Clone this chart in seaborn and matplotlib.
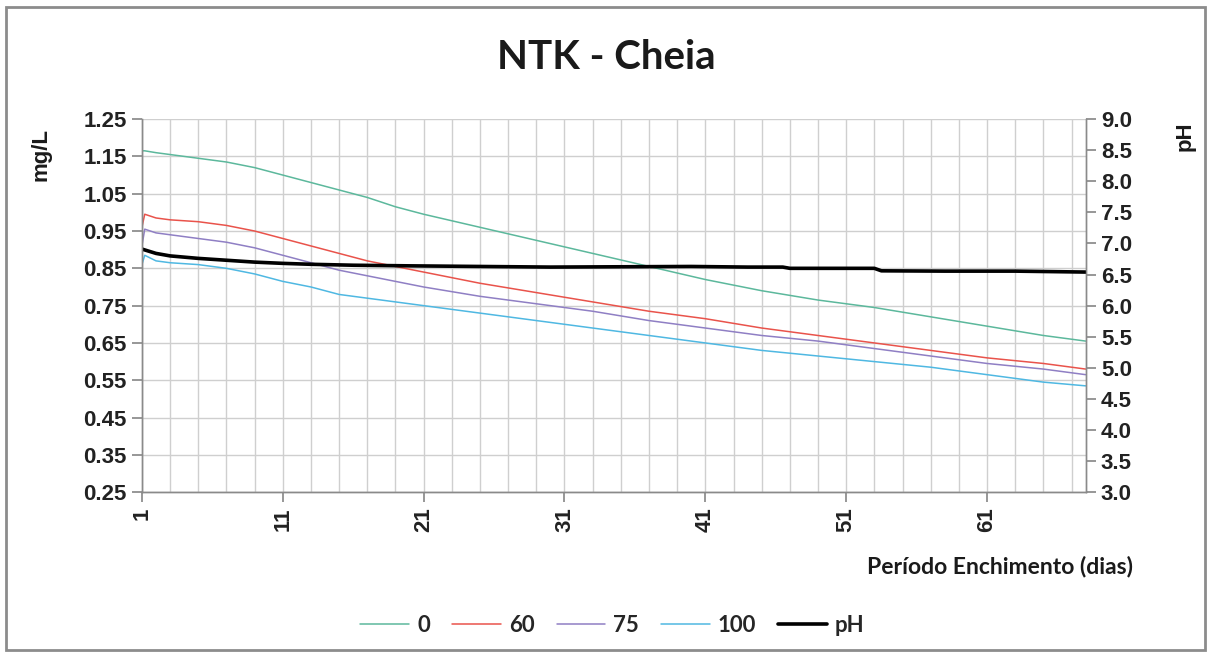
import numpy as np
import pandas as pd
import matplotlib
matplotlib.use("Agg")
import matplotlib.pyplot as plt
from matplotlib.patches import Rectangle
from matplotlib.lines import Line2D
import seaborn as sns

# Filling period (days) at which the NTK series were sampled
days = [1, 1.2, 2, 3, 5, 7, 9, 11, 13, 15, 17, 19, 21, 25, 29, 33, 37, 41,
        45, 49, 53, 57, 61, 65, 68]

# NTK concentration (mg/L) per treatment
ntk_0 = [1.165, 1.165, 1.16, 1.155, 1.145, 1.135, 1.12, 1.10, 1.08, 1.06, 1.04,
         1.015, 0.995, 0.96, 0.925, 0.89, 0.855, 0.82, 0.79, 0.765, 0.745, 0.72,
         0.695, 0.67, 0.655]
ntk_60 = [0.96, 0.995, 0.985, 0.98, 0.975, 0.965, 0.95, 0.93, 0.91, 0.89, 0.87,
          0.855, 0.84, 0.81, 0.785, 0.76, 0.735, 0.715, 0.69, 0.67, 0.65, 0.63,
          0.61, 0.595, 0.58]
ntk_75 = [0.91, 0.955, 0.945, 0.94, 0.93, 0.92, 0.905, 0.885, 0.865, 0.845, 0.83,
          0.815, 0.80, 0.775, 0.755, 0.735, 0.71, 0.69, 0.67, 0.655, 0.635, 0.615,
          0.595, 0.58, 0.565]
ntk_100 = [0.86, 0.885, 0.87, 0.865, 0.86, 0.85, 0.835, 0.815, 0.80, 0.78, 0.77,
           0.76, 0.75, 0.73, 0.71, 0.69, 0.67, 0.65, 0.63, 0.615, 0.60, 0.585,
           0.565, 0.545, 0.535]

# pH over the same period
ph_days = [1, 2, 3, 5, 7, 9, 11, 13, 16, 20, 25, 30, 35, 40, 44, 46.5, 47, 53,
           53.5, 58, 63, 68]
ph_vals = [6.91, 6.84, 6.80, 6.76, 6.73, 6.70, 6.68, 6.665, 6.65, 6.64, 6.63,
           6.62, 6.625, 6.63, 6.62, 6.62, 6.60, 6.60, 6.56, 6.555, 6.555, 6.54]

series_names = ["0", "60", "75", "100"]
series_vals = [ntk_0, ntk_60, ntk_75, ntk_100]
series_colors = ["#5cb89c", "#e9534b", "#8f7fc4", "#4fb8e2"]

left_ticks = [0.25, 0.35, 0.45, 0.55, 0.65, 0.75, 0.85, 0.95, 1.05, 1.15, 1.25]
right_ticks = [3.0, 3.5, 4.0, 4.5, 5.0, 5.5, 6.0, 6.5, 7.0, 7.5, 8.0, 8.5, 9.0]
x_ticks = [1, 11, 21, 31, 41, 51, 61]

sns.set_theme(style="white")
plt.rcParams["font.family"] = ["Liberation Sans Narrow", "Liberation Sans", "DejaVu Sans"]

fig = plt.figure(figsize=(12.13, 6.58), dpi=100)
ax = fig.add_axes([0.117, 0.252, 0.778, 0.567])
ax2 = ax.twinx()

df = pd.DataFrame({"dia": days})
for name, vals in zip(series_names, series_vals):
    df[name] = vals
long = df.melt(id_vars="dia", var_name="serie", value_name="mg/L")
sns.lineplot(data=long, x="dia", y="mg/L", hue="serie", hue_order=series_names,
             palette=series_colors, linewidth=1.1, ax=ax, legend=False,
             estimator=None, sort=False)

ph_df = pd.DataFrame({"dia": ph_days, "pH": ph_vals})
sns.lineplot(data=ph_df, x="dia", y="pH", color="black", linewidth=2.6, ax=ax2,
             legend=False, estimator=None, sort=False)

grid_c = "#cfcfcf"
ax.set_xlim(1, 68)
ax.set_ylim(0.25, 1.25)
ax2.set_ylim(3.0, 9.0)
ax.set_xticks(x_ticks)
ax.set_xticks(np.arange(1, 69, 2), minor=True)
ax.set_yticks(left_ticks)
ax2.set_yticks(right_ticks)
tick_fs = 16
ax.set_xticklabels([str(t) for t in x_ticks], rotation=90, fontsize=tick_fs,
                   fontweight="bold")
ax.set_yticklabels([f"{t:.2f}" for t in left_ticks], fontsize=tick_fs, fontweight="bold")
ax2.set_yticklabels([f"{t:.1f}" for t in right_ticks], fontsize=tick_fs, fontweight="bold")
ax.grid(True, which="both", axis="x", color=grid_c, linewidth=1.0)
ax.grid(True, which="major", axis="y", color=grid_c, linewidth=1.0)
ax2.grid(False)
ax.set_axisbelow(True)
ax.tick_params(axis="x", which="major", direction="out", length=7, color="#8a8a8a",
               bottom=True, pad=4, labelcolor="#222222")
ax.tick_params(axis="x", which="minor", length=0)
ax.tick_params(axis="y", direction="out", length=7, color="#8a8a8a", left=True,
               pad=4, labelcolor="#222222")
ax2.tick_params(axis="y", direction="out", length=7, color="#8a8a8a", right=True,
                pad=4, labelcolor="#222222")
for a in (ax, ax2):
    for side, sp in a.spines.items():
        sp.set_color("#8a8a8a")
        sp.set_linewidth(1.0)
    a.spines["top"].set_visible(False)
ax.set_xlabel("")
ax.set_ylabel("")
ax2.set_ylabel("")

fig.text(0.5, 0.912, "NTK - Cheia", ha="center", va="center", fontsize=29,
         fontweight="bold", family=["Lato", "DejaVu Sans"], color="#1a1a1a")
fig.text(0.034, 0.765, "mg/L", rotation=90, ha="center", va="center", fontsize=16,
         fontweight="bold", color="#1a1a1a")
fig.text(0.977, 0.793, "pH", rotation=90, ha="center", va="center", fontsize=16,
         fontweight="bold", color="#1a1a1a")
fig.text(0.934, 0.139, "Período Enchimento (dias)", ha="right", va="center",
         fontsize=16.5, fontweight="bold", family=["Lato", "DejaVu Sans"],
         color="#1a1a1a")

handles = [Line2D([0], [0], color=c, linewidth=1.1) for c in series_colors]
handles.append(Line2D([0], [0], color="black", linewidth=2.6))
labels = series_names + ["pH"]
leg = fig.legend(handles, labels, loc="center", bbox_to_anchor=(0.505, 0.05),
                 ncol=5, frameon=False, handlelength=2.2, handletextpad=0.35,
                 columnspacing=1.0,
                 prop={"family": ["Lato", "DejaVu Sans"], "weight": "bold", "size": 16})

fig.patches.append(Rectangle((0.005, 0.012), 0.988, 0.978, transform=fig.transFigure,
                             fill=False, edgecolor="#8c8c8c", linewidth=2.0))

fig.savefig("out.png", dpi=100)
